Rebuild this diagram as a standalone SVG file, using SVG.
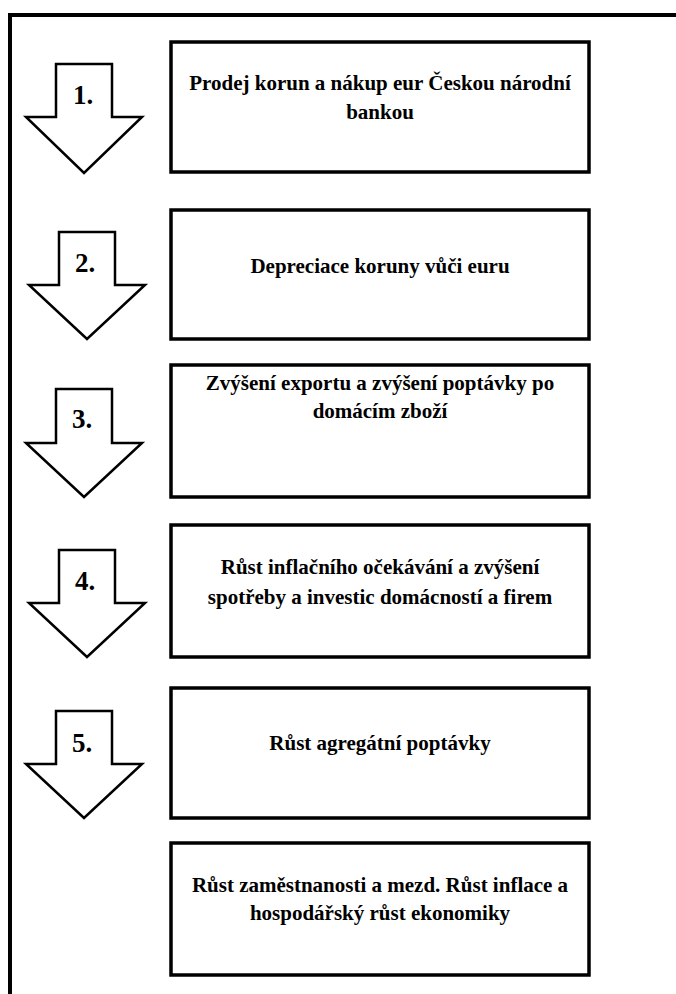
<svg xmlns="http://www.w3.org/2000/svg" width="676" height="994" viewBox="0 0 676 994">
<style>
.frame{fill:none;stroke:#000;stroke-width:4}
.box{fill:#fff;stroke:#000;stroke-width:3.5}
.arrow{fill:#fff;stroke:#000;stroke-width:2.5;stroke-linejoin:miter}
.t{font-family:"Liberation Serif","Times New Roman",serif;font-weight:bold;font-size:21px;fill:#000;text-anchor:middle}
.n{font-family:"Liberation Serif","Times New Roman",serif;font-weight:bold;font-size:27px;fill:#000;text-anchor:middle}
</style>
<rect width="676" height="994" fill="#fff"/>
<path class="frame" d="M10,1000 V15 H680"/>
<g id="connectors">
  <g id="arrow1"><path class="arrow" d="M56,64 H112 V117 H142 L84,173 L26,117 H56 Z"/><text class="n" x="83" y="104">1.</text></g>
  <g id="arrow2"><path class="arrow" d="M59,232 H115 V285 H145 L87,339 L29,285 H59 Z"/><text class="n" x="85" y="272">2.</text></g>
  <g id="arrow3"><path class="arrow" d="M56,389 H112 V443 H142 L84,497 L26,443 H56 Z"/><text class="n" x="82" y="428">3.</text></g>
  <g id="arrow4"><path class="arrow" d="M59,550 H115 V603 H145 L87,657 L29,603 H59 Z"/><text class="n" x="85" y="590">4.</text></g>
  <g id="arrow5"><path class="arrow" d="M56,711 H112 V764 H142 L84,818 L26,764 H56 Z"/><text class="n" x="82" y="752">5.</text></g>
</g>
<g id="node1"><rect class="box" x="171" y="42" width="418" height="130"/>
  <text class="t" x="380" y="90">Prodej korun a nákup eur Českou národní</text>
  <text class="t" x="380" y="119">bankou</text></g>
<g id="node2"><rect class="box" x="171" y="210" width="418" height="129"/>
  <text class="t" x="380" y="273">Depreciace koruny vůči euru</text></g>
<g id="node3"><rect class="box" x="171" y="365" width="418" height="132"/>
  <text class="t" x="380" y="390">Zvýšení exportu a zvýšení poptávky po</text>
  <text class="t" x="380" y="418">domácím zboží</text></g>
<g id="node4"><rect class="box" x="171" y="525" width="418" height="132"/>
  <text class="t" x="380" y="574">Růst inflačního očekávání a zvýšení</text>
  <text class="t" x="380" y="604">spotřeby a investic domácností a firem</text></g>
<g id="node5"><rect class="box" x="171" y="688" width="418" height="130"/>
  <text class="t" x="380" y="750">Růst agregátní poptávky</text></g>
<g id="node6"><rect class="box" x="171" y="843" width="418" height="132"/>
  <text class="t" x="380" y="892">Růst zaměstnanosti a mezd. Růst inflace a</text>
  <text class="t" x="380" y="920">hospodářský růst ekonomiky</text></g>
</svg>
